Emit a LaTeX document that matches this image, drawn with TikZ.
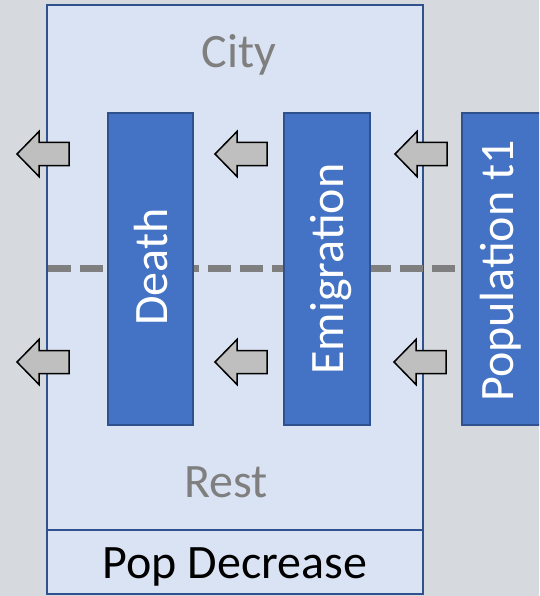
\documentclass[tikz,border=0pt]{standalone}
\usepackage{fontspec}
\setmainfont{Carlito}
\definecolor{bg}{HTML}{D6DADF}
\definecolor{paneFill}{HTML}{DAE3F3}
\definecolor{paneEdge}{HTML}{2F528F}
\definecolor{barFill}{HTML}{4472C4}
\definecolor{labelGray}{HTML}{7F7F7F}
\definecolor{arrowFill}{HTML}{BFBFBF}
% left-pointing block arrow, tip at (#1,#2)
\newcommand\leftflow[2]{%
  \draw[flow] (#1,#2) -- ++(22,-22.5) -- ++(0,11) -- ++(30,0) -- ++(0,23)
    -- ++(-30,0) -- ++(0,11) -- cycle;}
\begin{document}
\begin{tikzpicture}[x=1pt,y=-1pt,
  pane/.style={draw=paneEdge, fill=paneFill, line width=2.2pt, inner sep=0pt, outer sep=0pt},
  bar/.style={draw=paneEdge, fill=barFill, line width=1.5pt, minimum height=312pt, inner sep=0pt},
  big/.style={font=\fontsize{48}{58}\selectfont, inner sep=0pt},
  vlabel/.style={big, text=white, rotate=90, anchor=base},
  hlabel/.style={big, anchor=base},
  flow/.style={draw=black, fill=arrowFill, line width=1.5pt, line join=miter}]
\clip (0,0) rectangle (539,596);
\fill[bg] (0,0) rectangle (539,596);

% city / rest region and the summary cell below it
\node[pane, minimum width=376pt, minimum height=589pt] (cityPane) at (235,299.5) {};
\node[pane, minimum width=376pt, minimum height=64pt] (popPane) at (235,562) {};

% boundary between city and rest
\draw[labelGray, line width=7pt, dash pattern=on 23pt off 9pt] (48,268) -- (462,268);

% flow bars
\node[bar, minimum width=85pt] (deathBar) at (150.5,269) {};
\node[bar, minimum width=86pt] (emigBar) at (327,269) {};
\node[bar, minimum width=100pt] (popBar) at (512,269) {};

\node[vlabel] (deathText) at (167,267) {Death};
\node[vlabel] (emigText) at (343,269) {Emigration};
\node[vlabel] (popText) at (513,271) {Population t1};

% region labels
\node[hlabel, text=labelGray] (cityText) at (239,68) {City};
\node[hlabel, text=labelGray] (restText) at (226,497) {Rest};
\node[hlabel, text=black] (decText) at (235,578) {Pop Decrease};

% outflow arrows
\leftflow{17}{154}
\leftflow{215}{154}
\leftflow{395}{154}
\leftflow{17}{362}
\leftflow{215}{362}
\leftflow{394}{362}
\end{tikzpicture}
\end{document}
